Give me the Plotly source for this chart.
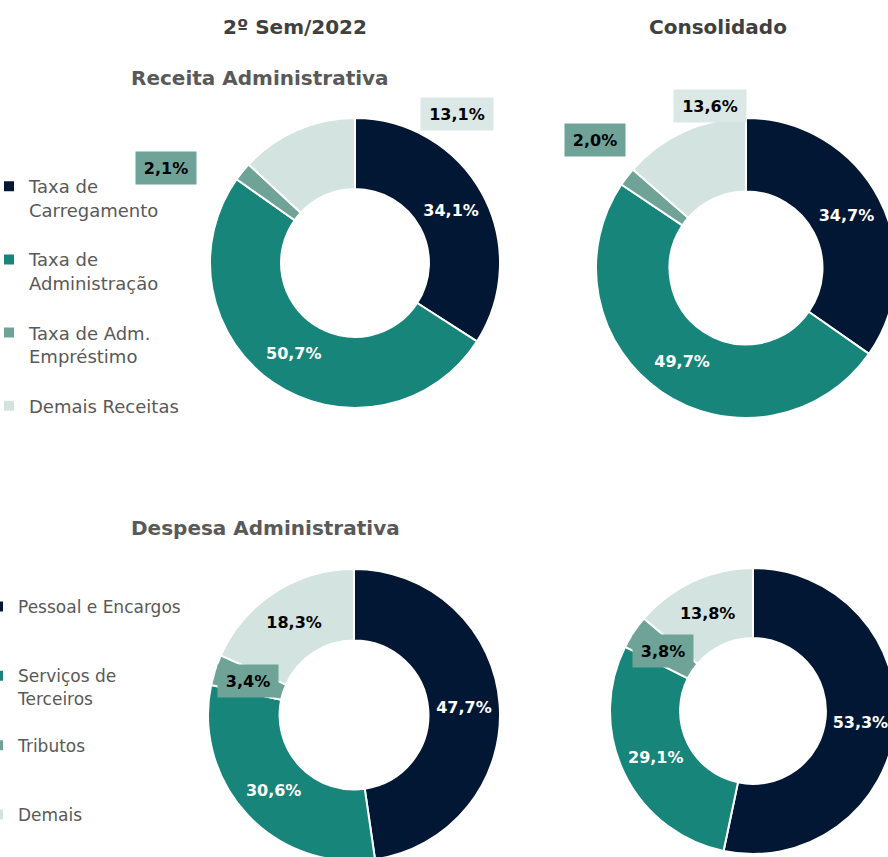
import plotly.graph_objects as go

# ---------------- data ----------------
rec_labels = ["Taxa de<br>Carregamento", "Taxa de<br>Administração",
              "Taxa de Adm.<br>Empréstimo", "Demais Receitas"]
rec_sem = [34.1, 50.7, 2.1, 13.1]
rec_cons = [34.7, 49.7, 2.0, 13.6]

desp_labels = ["Pessoal e Encargos", "Serviços de<br>Terceiros", "Tributos", "Demais"]
desp_sem = [47.7, 30.6, 3.4, 18.3]
desp_cons = [53.3, 29.1, 3.8, 13.8]

col_titles = ["2º Sem/2022", "Consolidado"]
row_titles = ["Receita Administrativa", "Despesa Administrativa"]

# ---------------- style ----------------
colors = ["#021733", "#17857A", "#6FA398", "#D3E3DF"]
txt_colors = ["white", "white", "black", "black"]
W, H = 900, 870
FONT = "DejaVu Sans"


def fmt(v):
    return f"{v:.1f}".replace(".", ",") + "%"


def dom(cx, cy, r):
    return dict(x=[(cx - r) / W, (cx + r) / W], y=[1 - (cy + r) / H, 1 - (cy - r) / H])


def px(x, y):
    return x / W, 1 - y / H


# legend padding lines to mimic spacing
rec_leg = [rec_labels[0] + "<br> ", rec_labels[1] + "<br> ", rec_labels[2] + "<br> ", rec_labels[3]]
desp_leg = [desp_labels[0] + "<br> <br> ", desp_labels[1] + "<br> ", desp_labels[2] + "<br> <br> ", desp_labels[3]]

pies = [
    dict(labels=rec_leg, values=rec_sem, d=dom(355, 263, 145), boxed=[2, 3], legend="legend"),
    dict(labels=rec_leg, values=rec_cons, d=dom(746, 268, 150), boxed=[2, 3], legend="legend"),
    dict(labels=desp_leg, values=desp_sem, d=dom(354, 715, 146), boxed=[2], legend="legend2"),
    dict(labels=desp_leg, values=desp_cons, d=dom(753, 711, 143), boxed=[2], legend="legend2"),
]

fig = go.Figure()
for p in pies:
    texts = ["" if i in p["boxed"] else fmt(v) for i, v in enumerate(p["values"])]
    fig.add_trace(go.Pie(
        labels=p["labels"], values=p["values"], text=texts,
        textinfo="text", textposition="inside", insidetextorientation="horizontal",
        insidetextfont=dict(family=FONT, size=16, color=txt_colors, weight="bold"),
        hole=0.51, sort=False, direction="clockwise", rotation=0,
        marker=dict(colors=colors, line=dict(color="white", width=2)),
        domain=p["d"], legend=p["legend"], hoverinfo="label+percent",
    ))

annotations = []
for t, (x, y) in zip(col_titles, [(295, 27), (718, 27)]):
    ax, ay = px(x, y)
    annotations.append(dict(text=f"<b>{t}</b>", x=ax, y=ay, xref="paper", yref="paper",
                            xanchor="center", yanchor="middle",
                            showarrow=False, font=dict(family=FONT, size=20, color="#404040")))
for t, (x, y) in zip(row_titles, [(260, 78), (265, 528)]):
    ax, ay = px(x, y)
    annotations.append(dict(text=f"<b>{t}</b>", x=ax, y=ay, xref="paper", yref="paper",
                            xanchor="center", yanchor="middle",
                            showarrow=False, font=dict(family=FONT, size=20, color="#595959")))

boxes = [
    (rec_sem[3], (457, 114), "#DCE8E5", 70),
    (rec_sem[2], (166, 168), "#6FA398", 58),
    (rec_cons[3], (710, 106), "#DCE8E5", 70),
    (rec_cons[2], (595, 140), "#6FA398", 58),
    (desp_sem[2], (248, 681), "#6FA398", 58),
    (desp_cons[2], (663, 651), "#6FA398", 58),
]
for v, (x, y), bg, w in boxes:
    ax, ay = px(x, y)
    annotations.append(dict(text=f"<b>{fmt(v)}</b>", x=ax, y=ay, xref="paper", yref="paper",
                            xanchor="center", yanchor="middle",
                            showarrow=False, bgcolor=bg, width=w, height=30,
                            font=dict(family=FONT, size=16, color="black")))

lx1, ly1 = px(-11, 168)
lx2, ly2 = px(-22, 589)
fig.update_layout(
    width=W, height=H, margin=dict(l=0, r=0, t=0, b=0, autoexpand=False),
    paper_bgcolor="white", plot_bgcolor="white",
    annotations=annotations,
    legend=dict(x=lx1, y=ly1, xanchor="left", yanchor="top", valign="top",
                font=dict(family=FONT, size=18, color="#595959"), bgcolor="rgba(0,0,0,0)"),
    legend2=dict(x=lx2, y=ly2, xanchor="left", yanchor="top", valign="top",
                 font=dict(family=FONT, size=17, color="#595959"), bgcolor="rgba(0,0,0,0)"),
    showlegend=True,
)

fig.write_html("out.html", config={"displayModeBar": False}, post_script=(
    "document.body.style.margin='0';"
    "document.body.style.overflow='hidden';"
    "document.documentElement.style.overflow='hidden';"))
